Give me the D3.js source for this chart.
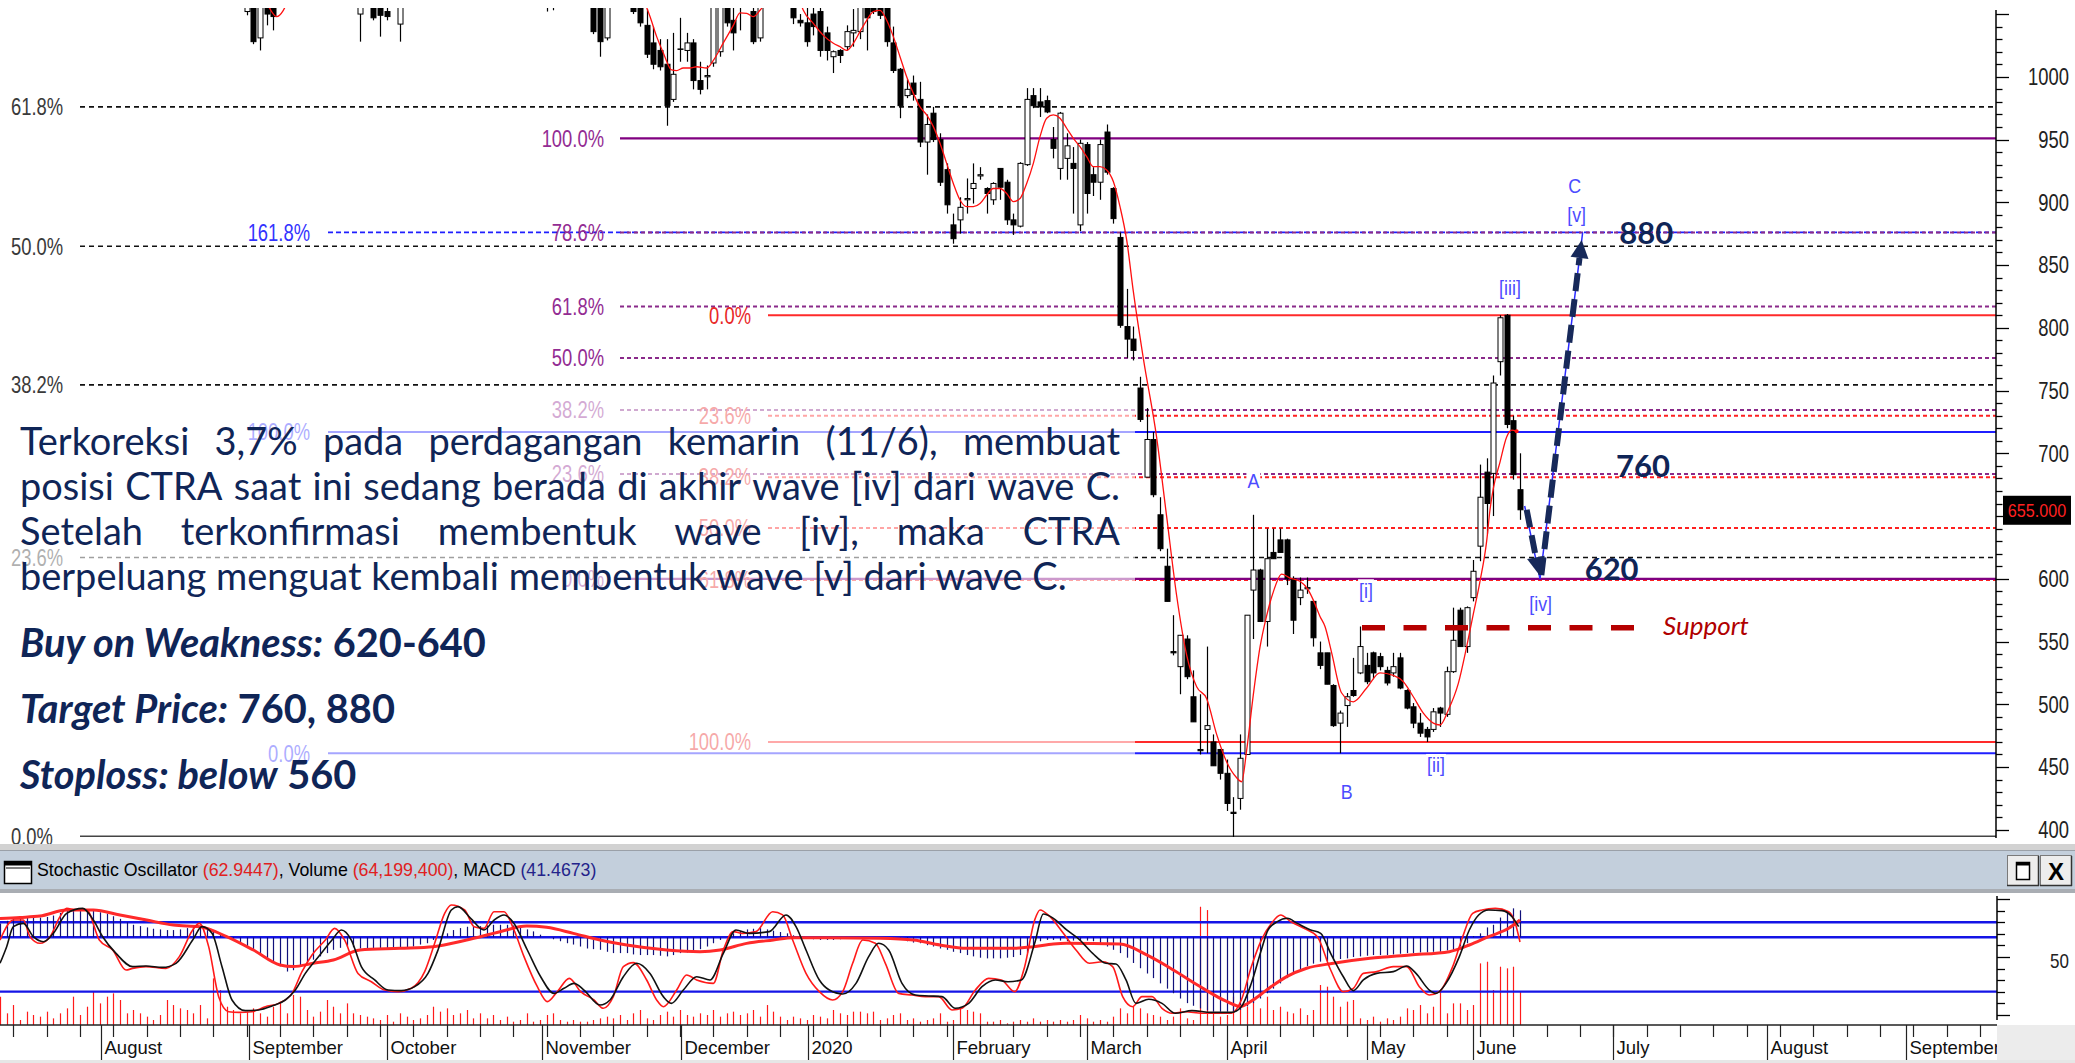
<!DOCTYPE html>
<html><head><meta charset="utf-8">
<script src="https://cdn.jsdelivr.net/npm/d3@7"></script>
<style>html,body{margin:0;padding:0;background:#fff;overflow:hidden}svg{display:block}</style>
</head><body>
<svg id="c" width="2075" height="1063"></svg>
<script>
// ================= DATA =================
// candles: [tradingDayIndex, open, high, low, close]  (only candles reaching into the visible price window)
const candles = [
[37,1052,1062,1049,1056],[38,1062,1070,1026,1028],[39,1031,1068,1021,1058],[40,1055,1062,1041,1050],[41,1058,1064,1037,1048],
[54,1050,1064,1028,1056],[56,1060,1068,1045,1047],[57,1057,1064,1032,1049],[58,1052,1058,1045,1048],[60,1042,1062,1028,1056],
[82,1060,1066,1052,1058],[83,1058,1064,1053,1060],
[89,1060,1068,1034,1036],[90,1058,1066,1016,1028],[91,1031,1062,1029,1056],
[95,1062,1068,1050,1052],[96,1060,1066,1040,1043],[97,1041,1054,1015,1018],[98,1027,1040,1006,1010],[99,1021,1030,1005,1008],
[100,1010,1030,961,977],[101,982,1035,980,1002],[102,1022,1047,1012,1022],[103,1021,1035,1012,1027],[104,1027,1030,990,997],
[105,997,1012,986,990],[106,1000,1009,990,1001],[107,1011,1062,1008,1056],[108,1020,1064,1016,1058],[109,1060,1066,1040,1043],
[110,1045,1058,1021,1035],[111,1058,1066,1037,1062],[113,1052,1058,1026,1028],[114,1031,1062,1028,1056],
[119,1062,1068,1042,1047],[120,1045,1050,1040,1043],[121,1043,1055,1024,1028],[122,1050,1060,1033,1040],[123,1052,1058,1016,1021],
[124,1035,1040,1013,1021],[125,1016,1021,1003,1020],[126,1021,1022,1011,1017],[127,1024,1041,1021,1036],[128,1035,1054,1024,1037],
[129,1036,1064,1030,1060],[130,1060,1066,1021,1047],[131,1062,1068,1050,1052],[132,1058,1064,1046,1049],[133,1058,1062,1024,1028],
[134,1027,1040,1003,1005],[135,1006,1007,967,977],[136,985,998,983,990],[137,995,1001,981,986],[138,982,996,944,948],
[139,948,970,922,962],[140,971,976,948,950],[141,950,955,913,916],[142,926,931,891,898],[143,882,891,867,871],
[144,886,904,875,896],[145,902,919,891,903],[146,911,931,899,915],[147,921,928,918,922],[148,911,912,891,907],
[149,902,916,898,915],[150,927,927,902,912],[151,916,918,882,886],[152,886,891,874,882],[153,881,932,880,931],
[154,930,991,929,982],[155,985,991,975,977],[156,980,991,968,976],[157,981,985,971,972],[158,950,960,935,943],
[159,927,972,918,971],[160,935,955,918,945],[161,931,944,891,927],[162,882,950,877,947],[163,946,948,891,907],
[164,922,928,905,916],[165,916,950,902,946],[166,956,962,922,924],[167,911,912,883,887],[168,872,876,800,802],
[169,801,831,776,791],[170,791,801,774,782],[171,752,761,725,727],[172,681,736,681,711],[173,711,717,665,667],
[174,651,665,622,624],[175,610,624,582,582],[176,542,571,539,541],[177,530,555,508,555],[178,552,555,520,522],
[179,506,527,486,486],[180,464,508,460,463],[181,480,546,461,483],[182,470,476,451,451],[183,464,464,440,445],
[184,445,456,415,421],[185,414,426,394,413],[186,425,476,416,457],[187,460,571,460,571],[188,591,651,552,607],
[189,607,608,566,566],[190,566,640,546,616],[191,621,640,616,616],[192,631,640,621,621],[193,631,632,595,600],
[194,600,602,556,567],[195,585,601,579,591],[196,592,601,588,593],[197,582,582,546,553],[198,541,550,528,531],
[199,541,541,516,516],[200,515,516,482,483],[201,485,495,461,493],[202,499,509,482,506],[203,511,537,506,507],
[204,525,562,524,546],[205,531,541,516,518],[206,541,542,520,525],[207,538,541,527,530],[208,527,530,515,517],
[209,525,541,522,530],[210,537,541,512,513],[211,511,512,496,497],[212,498,501,481,485],[213,485,493,474,477],
[214,480,482,470,474],[215,480,497,478,494],[216,497,498,482,493],[217,492,530,490,526],[218,526,577,525,551],
[219,575,577,546,546],[220,546,578,541,577],[221,585,615,582,606],[222,626,691,614,665],[223,685,696,636,660],
[224,684,762,650,756],[225,773,810,762,808],[226,810,811,720,723],[227,726,730,679,683],[228,671,700,647,655]
];
// red moving average, visible stretches only: [index, price]
const maSegA = [[40.3,1056],[41.5,1048],[42.5,1053],[42.9,1057]];
const maSegB = [[96.8,1058],[97.5,1048],[98.5,1032],[99.5,1019],[100.75,1005.5],[101.5,1005],[102.5,1007],[103.5,1007],[104.5,1008],[106,1007],[107,1013],[108.5,1027],[110,1041],[111,1051],[112,1050.6],[113,1048],[114,1053],[114.6,1057]];
const maSegC = [[120.2,1057],[120.5,1053],[122,1042.6],[123.5,1033],[125,1026.7],[126,1024],[127,1021],[128,1026.7],[129,1036],[130,1045],[131,1052],[132,1053],[133,1045],[134,1032],[135,1016],[136,1000],[137,986.8],[138,976],[139,969.6],[140,960.3],[141,947],[142,931],[143,915],[144,901.8],[145,896.5],[146,896.5],[147,899],[148,905.8],[149,911],[150,911],[151,907],[152,900.5],[153,903],[154,915],[155,931],[156,952.3],[157,967],[158,969.6],[159,967],[160,959],[161,951],[162,944.3],[163,936.4],[164,928.4],[165,928.4],[166,925.7],[167,916.5],[168,896.5],[169,870],[170,829],[171.5,775.6],[173.5,712.5],[175,649.5],[176.5,586.5],[178,539.2],[179.5,514],[181,504.5],[182.5,476],[184,454],[185.5,441.5],[186.25,438.3],[187,463.5],[188,507.7],[189,545.5],[190,570.7],[191,589.6],[192.25,603.8],[193.5,600.6],[195,598],[196.25,591],[197,583],[198,570],[198.75,562],[199.75,541],[201.25,509],[203,502],[205,513],[207,525],[209,523],[210.5,518],[212,506],[213.5,493],[215,485],[216,483.5],[217.25,495.5],[218.75,516.7],[220,546],[221,572],[222,598],[223,630],[223.5,655],[224,672],[225,693],[226,713],[226.75,718.5],[227.5,717.5]];

// Fibonacci sets
const fibBlackLabels = ["61.8%","50.0%","38.2%","23.6%","0.0%"];
const fibBlackPrices = [976,865,754.5,617,394.5];
const fibPurpleLabels = ["100.0%","78.6%","61.8%","50.0%","38.2%","23.6%","0.0%"];
const fibPurplePrices = [951,876,817,776,734.5,683.5,600];
const fibRedLabels = ["0.0%","23.6%","38.2%","50.0%","61.8%","100.0%"];
const fibRedPrices = [810,730,681,640.5,599,470];
const fibBlueLabels = ["161.8%","100.0%","0.0%"];
const fibBluePrices = [876,717,461];

// Elliott wave labels  [text, index, price]
const waveText  = ["A","B","[i]","[ii]","[iii]","[iv]","C","[v]"];
const waveIdx   = [188,202,204.9,215.4,226.5,231.1,236.2,236.5];
const wavePrice = [678,430.6,591,451.8,831.8,580,913.7,890.6];
const wavePathIdx = [228.7,231,237.4];
const wavePathPrice = [658,600,876];
const arrowDown = [229.0,655,230.9,603];
const arrowUp = [231.2,603,237.25,870];
const supportPrice = 561, supportFrom = 204.3, supportTo = 245.4;
const targetLabels = ["880","760","620"];
const targetIdx = [242.9,242.4,237.7];
const targetPrice = [876,690,608];
const lastPrice = "655.000";

// axes
const priceTicks = [400,450,500,550,600,650,700,750,800,850,900,950,1000];
const monthLabels = ["August","September","October","November","December","2020","February","March","April","May","June","July","August","September"];
const monthPos = [15.22,37.3,58.0,81.37,102.2,121.2,142.96,163.1,184.0,205.0,221.0,242.0,265.0,285.9];

// indicator panel
const volume = [54.6,22.5,38.5,9.6,25.7,19.3,16.1,25.7,12.8,22.5,
32.1,54.6,19.3,35.3,64.2,41.7,54.6,61,48.2,22.5,
28.9,22.5,16.1,9.6,19.3,48.2,38.5,32.1,28.9,22.5,
38.5,12.8,89.9,67.4,35.3,28.9,22.5,25.7,32.1,22.5,
16.1,35.3,45,22.5,57.8,54.6,28.9,16.1,25.7,48.2,
35.3,22.5,41.7,22.5,19.3,16.1,12.8,9.6,19.3,6.4,
22.5,16.1,9.6,12.8,19.3,35.3,25.7,32.1,19.3,22.5,
28.9,12.8,22.5,12.8,19.3,9.6,16.1,6.4,9.6,22.5,
6.4,9.6,19.3,22.5,9.6,6.4,9.6,6.4,6.4,9.6,
12.8,16.1,12.8,19.3,9.6,22.5,28.9,12.8,9.6,19.3,
25.7,16.1,28.9,19.3,16.1,22.5,19.3,28.9,16.1,22.5,
25.7,19.3,22.5,28.9,16.1,38.5,25.7,16.1,9.6,16.1,
12.8,9.6,19.3,16.1,12.8,28.9,22.5,19.3,25.7,25.7,
22.5,25.7,9.6,12.8,19.3,22.5,9.6,12.8,6.4,9.6,
12.8,22.5,6.4,9.6,32.1,28.9,25.7,22.5,6.4,6.4,
9.6,3.2,6.4,9.6,6.4,12.8,6.4,9.6,6.4,9.6,
6.4,9.6,19.3,12.8,6.4,9.6,6.4,16.1,32.1,22.5,
35.3,32.1,22.5,19.3,16.1,9.6,16.1,32.1,12.8,9.6,
228,221.6,22.5,16.1,19.3,54.6,41.7,35.3,48.2,32.1,
54.6,28.9,35.3,25.7,22.5,32.1,19.3,28.9,77.1,73.9,
54.6,35.3,45,48.2,12.8,9.6,16.1,6.4,12.8,9.6,
16.1,32.1,28.9,38.5,22.5,35.3,64.2,22.5,41.7,41.7,
28.9,38.5,118.8,122,67.4,112.4,109.2,112.4,64.2];
const macdHist = [21,25,28,29,30,30,30,31,33,37,
40,42,44,42,40,38,36,32,28,23,
19,17,15,13,12,11,11,12,14,16,
17,14,11,5,0,-4,-9,-14,-19,-26,
-32,-38,-44,-52,-50,-45,-39,-34,-29,-24,
-19,-16,-14,-15,-17,-18,-19,-19,-19,-18,
-17,-15,-14,-11,-9,-4,1,6,11,14,
16,17,17,18,19,19,19,18,16,12,
9,4,0,-3,-6,-9,-11,-14,-17,-18,
-19,-22,-24,-24,-24,-26,-27,-27,-27,-28,
-29,-27,-24,-23,-22,-18,-14,-9,-4,1,
6,9,12,13,14,12,10,8,6,3,
0,-2,-3,-4,-4,-4,-3,-2,-2,-1,
0,0,0,-1,-2,-4,-6,-8,-9,-12,
-14,-17,-19,-22,-24,-27,-29,-31,-32,-32,
-32,-31,-30,-27,-24,-15,-6,-4,-4,-5,
-6,-5,-4,-5,-6,-10,-14,-19,-24,-31,
-39,-47,-55,-62,-70,-78,-85,-93,-100,-104,
-108,-111,-113,-113,-113,-112,-110,-105,-100,-93,
-85,-78,-70,-62,-55,-49,-44,-40,-37,-36,
-35,-33,-32,-30,-29,-28,-27,-27,-27,-26,
-25,-24,-24,-23,-23,-22,-22,-20,-19,-14,
-9,2,6,15,19,30,39,44,41];
const macdSignal = [[0,28.7],[3,30.2],[6,32.3],[10,41.3],[14,41.3],[18,33.8],[22,26.2],[26,18.6],[30,16.1],[34,1],[38,-19.3],[42,-42],[44,-44.5],[47,-39.5],[50,-34.4],[54,-19.3],[60,-16.7],[65,-14.2],[70,-4.1],[75,8.5],[79,17.1],[82,15.1],[86,6],[90,-4.1],[94,-11.7],[100,-19.3],[105,-21.8],[108,-19.3],[112,-9.2],[116,-4.1],[119,-0.6],[124,-0.6],[132,-1.6],[137,-4.1],[141,-11.7],[145,-16.7],[148,-16.7],[152,-16.7],[155,-14.2],[158,-10.2],[160,-9.2],[168,-10.2],[172,-26.8],[176,-49.6],[180,-74.8],[184,-97.5],[186,-105.1],[188,-95],[190,-79.9],[193,-59.7],[196,-47],[200,-39.5],[205.5,-31.9],[211.5,-26.8],[217.4,-21.8],[220.4,-11.7],[223.3,1],[226.3,13.6],[228,26.2]];
const stochK = [[0,64.6],[2,81.9],[3.5,81.9],[4.5,67.5],[6,61.8],[7.5,67.5],[9,84.8],[10,92],[11.4,90.6],[13,90.6],[14.9,64.6],[16.9,56],[18.9,38.7],[19.9,40.1],[21.9,41.6],[24.9,40.1],[26.9,50.3],[28.9,73.3],[29.9,79],[31.3,58.9],[32.8,15.6],[34.3,2.7],[35.8,2.1],[37.8,2.7],[39.8,7],[41.8,9.9],[43.8,18.5],[45.3,37.3],[46.8,51.7],[48.8,64.6],[50.2,74.7],[51.7,64.6],[53.7,35.8],[55.7,28.6],[57.7,21.4],[59.7,20],[61.7,22.9],[63.7,37.3],[65.2,61.8],[66.7,87.7],[67.7,94.9],[69.7,90.6],[71.1,76.2],[72.6,74.7],[74.1,89.1],[75.6,89.1],[77.1,73.3],[78.6,50.3],[80.6,24.3],[82.1,11.4],[83.6,20],[85.4,31.5],[87.1,20],[89.1,12.8],[90.5,5.6],[92,15.7],[93.5,41.6],[95,45.1],[97,30.1],[98.5,12.8],[99.5,7],[101.5,21.4],[103,34.4],[104.5,30.1],[107,27.2],[108.5,56],[110,71.9],[111.4,70.4],[113.4,71.9],[115.9,89.1],[117.4,86.3],[118.9,64.6],[120.9,35.8],[122.9,20],[124.9,12.8],[126.4,20],[127.9,44.5],[129.4,64.6],[131.3,61.8],[132.8,44.5],[134.8,18.5],[136.8,17.1],[138.8,15.7],[140.8,15.7],[142.8,4.2],[144.3,5.6],[146.3,21.4],[148.3,31.5],[150.2,30.1],[152.2,20],[153.7,41.6],[155.2,81.9],[156,90.6],[157.5,84.8],[159.5,70.4],[161.4,56],[163.4,44.5],[165.4,45.9],[166.9,41.6],[168.4,15.7],[169.9,7],[171.3,15.7],[172.8,15.7],[174.3,5.6],[175.8,1.3],[177.8,2.7],[180.3,1.3],[182.7,1.3],[184.7,1.3],[186.2,12.8],[187.7,41.6],[189.2,64.6],[190.7,79],[192.1,86.3],[193.6,80.5],[195.6,74.7],[197.6,67.5],[199.6,38.7],[201.5,20],[203,22.9],[204.5,35.8],[206.5,37.3],[209,41.6],[211,41.6],[212.9,24.3],[214.4,17.1],[215.9,20],[217.9,41.6],[219.4,67.5],[220.9,87.7],[222.3,90.6],[224.3,92],[226.3,89.1],[227.3,79],[228,62.9]];
const stochD = [[0,44.5],[1,58.9],[2,76.2],[3.5,79],[5,67.5],[6.5,63.2],[8,70.4],[10,87.7],[12.4,92],[14,81.9],[15.4,67.5],[17.4,53.1],[19.9,41.6],[21.9,42.2],[24.4,41],[26.4,44.5],[28.9,64.6],[30.3,76.2],[31.8,70.4],[33.3,41.6],[34.8,12.8],[36.8,3.6],[38.8,4.2],[40.8,7.6],[42.8,12.8],[44.3,21.4],[45.8,35.8],[47.8,50.3],[49.8,64.6],[51.2,73.3],[52.7,64.6],[54.2,41.6],[56.2,30.1],[58.2,21.4],[60.2,20.9],[62.2,24.3],[64.2,35.8],[65.7,56],[67.7,90.6],[68.7,93.5],[70.6,83.4],[72.6,73.3],[74.1,81.9],[75.6,86.3],[77.1,79],[79.1,56],[81.1,32.9],[83.1,18.5],[84.6,22.9],[86.1,27.2],[87.6,21.4],[90,8.5],[91.5,12.8],[93.5,32.9],[95.5,44.5],[97.5,35.8],[99.5,15.7],[100.7,9.9],[102.5,21.4],[104.5,32.9],[106.5,30.1],[108.5,53.1],[110.4,73.3],[112.4,70.4],[115.4,71.9],[117.9,86.3],[119.4,76.2],[120.9,56],[122.9,30.1],[124.4,21.4],[126.4,18],[128.4,27.2],[130.3,50.3],[131.8,61.8],[133.3,56],[135.3,27.2],[137.3,17.1],[139.3,16.3],[141.3,15.7],[143.3,5.6],[145.3,9.9],[147.3,24.3],[149.3,30.1],[151.2,28.6],[153.2,30.1],[155.2,61.8],[156.5,87.1],[158,83.4],[160,73.3],[162,64.6],[163.9,53.1],[165.9,44.5],[167.4,43.9],[168.9,30.1],[170.4,9.9],[172.3,13.4],[174.3,9.9],[176.3,1.3],[178.8,3.6],[181.7,2.1],[184.7,2.1],[186.2,7],[187.7,27.2],[189.2,56],[190.2,73.3],[191.6,80.5],[193.1,83.4],[194.6,79],[196.6,73.3],[198.1,70.4],[199.6,53.1],[201.5,32.9],[203,20.9],[204.5,30.1],[206.5,35.8],[209,37.3],[211,42.2],[212.4,35.8],[214.4,21.4],[215.4,18.5],[216.9,27.2],[218.9,50.3],[220.4,73.3],[221.8,86.3],[223.3,90.6],[225.3,90],[226.8,84.8],[227.8,76.2]];
const stochLevels = [80,20];
const macdZero = 0;

// text
const paraLines = [
 "Terkoreksi 3,7% pada perdagangan kemarin (11/6), membuat",
 "posisi CTRA saat ini sedang berada di akhir wave [iv] dari wave C.",
 "Setelah terkonfirmasi membentuk wave [iv], maka CTRA",
 "berpeluang menguat kembali membentuk wave [v] dari wave C."
];
const tradeLines = [
 [["Buy on Weakness:",true],[" 620-640",false]],
 [["Target Price:",true],[" 760, 880",false]],
 [["Stoploss: below",true],[" 560",false]]
];
const headerParts = [["Stochastic Oscillator ","#000"],["(62.9447)","#e02020"],[", Volume ","#000"],["(64,199,400)","#e02020"],[", MACD ","#000"],["(41.4673)","#23238a"]];

// ================= DRAW =================
const svg = d3.select('#c');
const NARROW = "'Liberation Sans', Arial, sans-serif";
const NAVY = '#0f2557';
const xs = d3.scaleLinear().domain([0, 299.4]).range([0, 1996]);
const ys = d3.scaleLinear().domain([400, 1000]).range([829.8, 76.8]);
const yStoch = d3.scaleLinear().domain([0,100]).range([1014.8, 899.1]);
const yMacd = d3.scaleLinear().domain([0, 41.47]).range([937.3, 910]);
const yVol = d3.scaleLinear().domain([0, 64.2]).range([1025, 991.7]);

const defs = svg.append('defs');
defs.append('clipPath').attr('id','mainClip').append('rect').attr('x',0).attr('y',8).attr('width',1996).attr('height',829);
defs.append('clipPath').attr('id','indClip').append('rect').attr('x',0).attr('y',893).attr('width',1997).attr('height',132);
defs.append('clipPath').attr('id','axClip').append('rect').attr('x',0).attr('y',1025).attr('width',1997).attr('height',38);

function ntext(g, x, y, s, o) {
  return g.append('text')
    .attr('transform', `translate(${x},${y}) scale(${o.sx ?? 1},1)`)
    .attr('font-family', o.family || NARROW)
    .attr('font-size', o.size || 16)
    .attr('font-weight', o.weight || 'normal')
    .attr('font-style', o.style || 'normal')
    .attr('fill', o.fill || '#000')
    .attr('text-anchor', o.anchor || 'start')
    .attr('dy', o.dy ?? '0.36em')
    .text(s);
}

// ---- main panel ----
const main = svg.append('g').attr('clip-path','url(#mainClip)');
const fibG = main.append('g');
const fibLabelG = svg.append('g');

function fibSet(labels, prices, opt) {
  labels.forEach((lab, k) => {
    const y = ys(prices[k]);
    const solid = opt.solid.includes(lab);
    fibG.append('line').attr('x1', opt.x0).attr('x2', 1996).attr('y1', y).attr('y2', y)
      .attr('stroke', solid ? opt.solidColor : opt.color)
      .attr('stroke-width', solid ? opt.solidWidth : opt.width)
      .attr('stroke-dasharray', solid ? null : opt.dash);
    ntext(fibLabelG, opt.lx, y, lab, {size: 23, sx: 0.8, anchor: opt.anchor, fill: opt.labelColor});
  });
}
fibSet(fibBlackLabels, fibBlackPrices, {x0: 80, lx: 11, anchor:'start', color:'#111', width:1.6, dash:'5,4', solid:['0.0%'], solidColor:'#444', solidWidth:2.2, labelColor:'#3a3a3a'});
fibSet(fibBlueLabels, fibBluePrices, {x0: 328, lx: 310, anchor:'end', color:'#1f1fff', width:1.6, dash:'5,3', solid:['100.0%','0.0%'], solidColor:'#1f1fff', solidWidth:2, labelColor:'#3333ff'});
fibSet(fibRedLabels, fibRedPrices, {x0: 768, lx: 751, anchor:'end', color:'#ff2020', width:2, dash:'4,3', solid:['0.0%','100.0%'], solidColor:'#ff2a2a', solidWidth:2, labelColor:'#e82828'});
fibSet(fibPurpleLabels, fibPurplePrices, {x0: 620, lx: 604, anchor:'end', color:'#8a2a8a', width:2, dash:'4,3', solid:['100.0%','0.0%'], solidColor:'#800080', solidWidth:2.2, labelColor:'#932c93'});

// candles
const cg = main.append('g');
const bw = 5;
candles.forEach(([i,o,h,l,c]) => {
  const x = Math.round(xs(i)) + 0.5;
  cg.append('line').attr('x1',x).attr('x2',x).attr('y1',ys(h)).attr('y2',ys(l)).attr('stroke','#000').attr('stroke-width',1.2);
  const top = ys(Math.max(o,c)), bot = ys(Math.min(o,c));
  if (Math.abs(o-c) < 0.6) {
    cg.append('line').attr('x1',x-bw/2-0.5).attr('x2',x+bw/2+0.5).attr('y1',top).attr('y2',top).attr('stroke','#000').attr('stroke-width',1.5);
  } else {
    cg.append('rect').attr('x',x-bw/2).attr('y',top).attr('width',bw).attr('height',Math.max(1,bot-top))
      .attr('fill', c < o ? '#000' : '#fff').attr('stroke','#000').attr('stroke-width',1);
  }
});
// moving average
const maLine = d3.line().x(d=>xs(d[0])).y(d=>ys(d[1])).curve(d3.curveMonotoneX);
[maSegA, maSegB, maSegC].forEach(seg => main.append('path').attr('d', maLine(seg)).attr('fill','none').attr('stroke','#ff1010').attr('stroke-width',1.3));
const lastMa = maSegC[maSegC.length-1];
main.append('circle').attr('cx',xs(lastMa[0])).attr('cy',ys(lastMa[1])).attr('r',2).attr('fill','#ff1010');

// translucent text panel
svg.append('rect').attr('x',0).attr('y',396).attr('width',1135).attr('height',410).attr('fill','#fff').attr('opacity',0.6);

// paragraph
const para = svg.append('g').attr('fill', NAVY).attr('font-family',"Lato, 'Open Sans', sans-serif");
const tmp = para.append('text').attr('font-size',36).text(paraLines[3]);
const fs = 36 * 1047 / tmp.node().getComputedTextLength();
tmp.remove();
const paraBase = [455, 500, 545, 590];
paraLines.forEach((ln, k) => {
  if (k === 3) { para.append('text').attr('x',20).attr('y',paraBase[k]).attr('font-size',fs).text(ln); return; }
  const words = ln.split(' ');
  const nodes = words.map(w => para.append('text').attr('y',paraBase[k]).attr('font-size',fs).text(w));
  const widths = nodes.map(n => n.node().getComputedTextLength());
  const gap = (1100 - d3.sum(widths)) / (words.length - 1);
  let x = 20;
  nodes.forEach((n, j) => { n.attr('x', x); x += widths[j] + gap; });
});
// trading lines
const tradeBase = [656.7, 723.3, 789.3];
const trade = svg.append('g').attr('fill', NAVY).attr('font-family',"Lato, 'Open Sans', sans-serif").attr('font-weight',700);
let tfs = 34;
{
  const t = trade.append('text').attr('font-size',34);
  tradeLines[0].forEach(([s,it]) => t.append('tspan').attr('font-style', it?'italic':'normal').text(s));
  tfs = 34 * 466 / t.node().getComputedTextLength();
  t.remove();
}
tradeLines.forEach((parts, k) => {
  const t = trade.append('text').attr('x',20).attr('y',tradeBase[k]).attr('font-size',tfs);
  parts.forEach(([s,it]) => t.append('tspan').attr('font-style', it?'italic':'normal').text(s));
});

// support line
svg.append('line').attr('x1',xs(supportFrom)).attr('x2',xs(supportTo)).attr('y1',ys(supportPrice)).attr('y2',ys(supportPrice))
  .attr('stroke','#b50000').attr('stroke-width',5.5).attr('stroke-dasharray','23,18.5');
svg.append('text').attr('x',1663).attr('y',ys(supportPrice)+7).attr('font-family',"Lato, 'Open Sans', sans-serif").attr('font-style','italic')
  .attr('font-size',26).attr('fill','#b00000').text('Support');

// wave path and arrows
const wl = d3.line().x((d,k)=>xs(wavePathIdx[k])).y((d,k)=>ys(wavePathPrice[k]));
svg.append('path').attr('d', wl(wavePathIdx)).attr('fill','none').attr('stroke','#2a2aff').attr('stroke-width',1.5);
function arrow(a) {
  const x1=xs(a[0]), y1=ys(a[1]), x2=xs(a[2]), y2=ys(a[3]);
  const dx=x2-x1, dy=y2-y1, L=Math.hypot(dx,dy), ux=dx/L, uy=dy/L;
  const hl=18, hw=9;
  const bx=x2-ux*hl, by=y2-uy*hl;
  svg.append('line').attr('x1',x1).attr('y1',y1).attr('x2',bx).attr('y2',by).attr('stroke','#17295a').attr('stroke-width',6).attr('stroke-dasharray','18,8');
  svg.append('path').attr('d',`M${x2},${y2}L${bx-uy*hw},${by+ux*hw}L${bx+uy*hw},${by-ux*hw}Z`).attr('fill','#17295a');
}
arrow(arrowDown); arrow(arrowUp);

// wave labels
waveText.forEach((s,k) => {
  const g = svg.append('g').attr('transform',`translate(${xs(waveIdx[k])},${ys(wavePrice[k])})`);
  const t = ntext(g, 0, 0, s, {size:21, sx:0.85, anchor:'middle', fill:'#4b4bff'});
  const bb = g.node().getBBox();
  g.insert('rect','text').attr('x',bb.x-1).attr('y',bb.y+1).attr('width',bb.width+2).attr('height',bb.height-2).attr('fill','#fff');
});
// target numbers
targetLabels.forEach((s,k) => {
  svg.append('text').attr('x',xs(targetIdx[k])).attr('y',ys(targetPrice[k])).attr('font-family',"Lato, 'Open Sans', sans-serif")
    .attr('font-weight',700).attr('font-size',31).attr('fill',NAVY).attr('dy','0.36em').text(s);
});

// right price axis
const ax = svg.append('g');
ax.append('line').attr('x1',1996).attr('x2',1996).attr('y1',10).attr('y2',838).attr('stroke','#000').attr('stroke-width',1.5);
d3.range(400, 1051, 10).forEach(v => {
  const y = Math.round(ys(v)) + 0.5;
  ax.append('line').attr('x1',1996).attr('x2',1996 + (v % 50 === 0 ? 13 : 6.5)).attr('y1',y).attr('y2',y).attr('stroke','#000').attr('stroke-width',1.3);
});
priceTicks.forEach(v => ntext(ax, 2069, ys(v), String(v), {size:23, sx:0.8, anchor:'end', fill:'#222'}));
// last price tag
const lpy = ys(655);
ax.append('rect').attr('x',2003).attr('y',lpy-14).attr('width',68).attr('height',29).attr('fill','#000');
ntext(ax, 2037, lpy, lastPrice, {size:19, sx:0.85, anchor:'middle', fill:'#ff2020'});

// ---- panel separator / header ----
svg.append('rect').attr('x',0).attr('y',844).attr('width',2075).attr('height',6).attr('fill','#d2d2d2');
svg.append('rect').attr('x',0).attr('y',850).attr('width',2075).attr('height',40).attr('fill','#c3cfdc');
svg.append('line').attr('x1',0).attr('x2',2075).attr('y1',850.5).attr('y2',850.5).attr('stroke','#9aa0a8');
svg.append('rect').attr('x',0).attr('y',889).attr('width',2075).attr('height',4).attr('fill','#a9adb3');
// left icon
svg.append('rect').attr('x',4.5).attr('y',861.5).attr('width',27).attr('height',22).attr('fill','#fff').attr('stroke','#000').attr('stroke-width',1.5);
svg.append('rect').attr('x',4.5).attr('y',861.5).attr('width',27).attr('height',4).attr('fill','#000');
svg.append('line').attr('x1',6).attr('x2',30).attr('y1',868).attr('y2',868).attr('stroke','#000');
// header text
const ht = svg.append('text').attr('font-family',NARROW).attr('font-size',19).attr('dy','0.36em');
headerParts.forEach(([s,c]) => ht.append('tspan').attr('fill',c).text(s));
const hw0 = ht.node().getComputedTextLength();
ht.attr('transform',`translate(37,869) scale(${560/hw0},1)`);
// buttons
[[2007,'max'],[2040,'x']].forEach(([bx,kind]) => {
  svg.append('rect').attr('x',bx+0.5).attr('y',855.5).attr('width',31).attr('height',30).attr('fill','#ededed').attr('stroke','#7a7a7a');
  svg.append('line').attr('x1',bx+31.5).attr('x2',bx+31.5).attr('y1',856).attr('y2',886).attr('stroke','#333').attr('stroke-width',1.5);
  svg.append('line').attr('x1',bx).attr('x2',bx+32).attr('y1',885.5).attr('y2',885.5).attr('stroke','#333').attr('stroke-width',1.5);
  if (kind === 'max') {
    svg.append('rect').attr('x',bx+9.5).attr('y',862.5).attr('width',13).attr('height',17).attr('fill','#fff').attr('stroke','#000').attr('stroke-width',1.5);
    svg.append('rect').attr('x',bx+9.5).attr('y',862.5).attr('width',13).attr('height',3).attr('fill','#000');
  } else {
    svg.append('text').attr('x',bx+16).attr('y',871).attr('dy','0.36em').attr('text-anchor','middle').attr('font-family',NARROW).attr('font-weight',700).attr('font-size',24).text('X');
  }
});

// ---- indicator panel ----
const ind = svg.append('g').attr('clip-path','url(#indClip)');
volume.forEach((v,i) => {
  const x = Math.round(xs(i)) + 0.5;
  ind.append('line').attr('x1',x).attr('x2',x).attr('y1',yVol(0)).attr('y2',yVol(v)).attr('stroke','#ff1a1a').attr('stroke-width',1.2);
});
stochLevels.forEach(v => ind.append('line').attr('x1',0).attr('x2',1997).attr('y1',yStoch(v)).attr('y2',yStoch(v)).attr('stroke','#1414e6').attr('stroke-width',2.4));
ind.append('line').attr('x1',0).attr('x2',1997).attr('y1',yMacd(macdZero)).attr('y2',yMacd(macdZero)).attr('stroke','#1414e6').attr('stroke-width',2.4);
macdHist.forEach((v,i) => {
  const x = Math.round(xs(i)) + 0.5;
  ind.append('line').attr('x1',x).attr('x2',x).attr('y1',yMacd(0)).attr('y2',yMacd(v)).attr('stroke','#10107a').attr('stroke-width',1.2);
});
ind.append('path').attr('d', d3.line().x(d=>xs(d[0])).y(d=>yMacd(d[1])).curve(d3.curveMonotoneX)(macdSignal))
  .attr('fill','none').attr('stroke','#ff2a2a').attr('stroke-width',3);
const sl = d3.line().x(d=>xs(d[0])).y(d=>yStoch(d[1])).curve(d3.curveMonotoneX);
ind.append('path').attr('d', sl(stochK)).attr('fill','none').attr('stroke','#ff1a1a').attr('stroke-width',1.6);
ind.append('path').attr('d', sl(stochD)).attr('fill','none').attr('stroke','#111').attr('stroke-width',1.6);
// indicator right axis
svg.append('line').attr('x1',1997).attr('x2',1997).attr('y1',896).attr('y2',1020).attr('stroke','#000').attr('stroke-width',1.5);
d3.range(0, 101, 10).forEach(v => {
  const y = Math.round(yStoch(v)) + 0.5;
  svg.append('line').attr('x1',1997).attr('x2',1997 + (v % 50 === 0 ? 13 : 8)).attr('y1',y).attr('y2',y).attr('stroke','#000').attr('stroke-width',1.3);
});
ntext(svg, 2069, yStoch(50)+4, '50', {size:20, sx:0.85, anchor:'end', fill:'#222'});

// ---- x axis ----
svg.append('rect').attr('x',1997).attr('y',1025).attr('width',78).attr('height',38).attr('fill','#ececec');
svg.append('line').attr('x1',0).attr('x2',1997).attr('y1',1025).attr('y2',1025).attr('stroke','#222').attr('stroke-width',1.5);
const xg = svg.append('g').attr('clip-path','url(#axClip)');
d3.range(2, 300, 5).forEach(i => {
  const x = Math.round(xs(i)) + 0.5;
  xg.append('line').attr('x1',x).attr('x2',x).attr('y1',1025).attr('y2',1037).attr('stroke','#222').attr('stroke-width',1.2);
});
monthPos.forEach((p,k) => {
  const x = Math.round(xs(p)) + 0.5;
  xg.append('line').attr('x1',x).attr('x2',x).attr('y1',1025).attr('y2',1063).attr('stroke','#222').attr('stroke-width',1.2);
  xg.append('text').attr('x',x+3).attr('y',1053.5).attr('font-family',NARROW).attr('font-size',18.5).attr('fill','#111').text(monthLabels[k]);
});
svg.append('rect').attr('x',0).attr('y',1060).attr('width',2075).attr('height',3).attr('fill','#e6e6e6');
</script>
</body></html>
